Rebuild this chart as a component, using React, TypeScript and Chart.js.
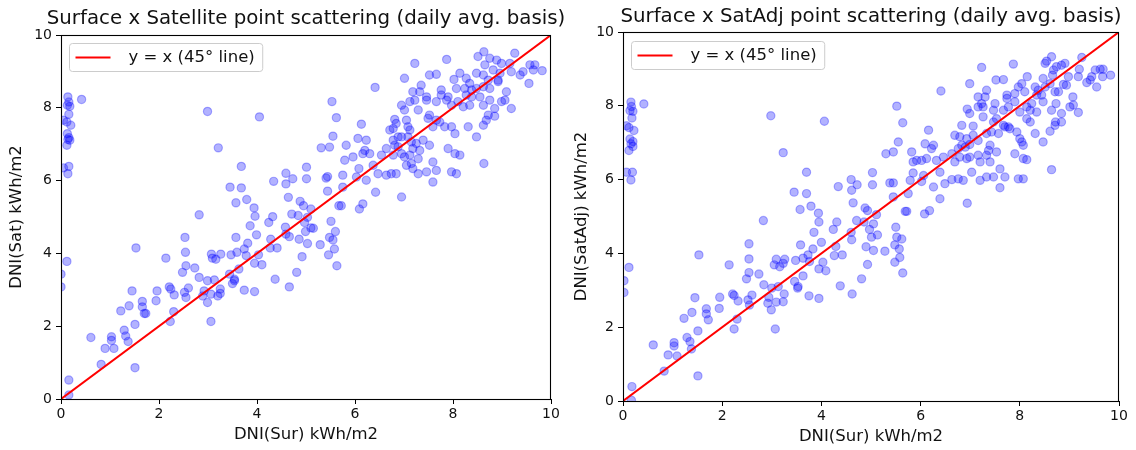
import React, { useEffect, useRef } from "react";
import { Chart, registerables } from "chart.js";

Chart.register(...registerables);

// ---------- data ----------
const AXIS_TICKS = [0, 2, 4, 6, 8, 10];
const REF_LINE = [0, 10];
const LEGEND_LABEL = "y = x (45° line)";
const X_LABEL = "DNI(Sur) kWh/m2";

const SAT_TITLE = "Surface x Satellite point scattering (daily avg. basis)";
const SAT_Y_LABEL = "DNI(Sat) kWh/m2";
const SATADJ_TITLE = "Surface x SatAdj point scattering (daily avg. basis)";
const SATADJ_Y_LABEL = "DNI(SatAdj) kWh/m2";

// Surface (x) vs Satellite (y)
const SAT_NEAR_ZERO: number[][] = [
  [0.14, 8.30], [0.42, 8.23], [0.16, 8.16], [0.18, 8.04], [0.13, 8.07], [0.16, 7.82], [0.05, 7.66],
  [0.12, 7.61], [0.20, 7.52], [0.13, 7.29], [0.16, 7.18], [0.18, 7.11], [0.14, 7.13], [0.12, 6.97],
  [0.05, 6.35], [0.16, 6.39], [0.14, 6.19], [0.12, 3.78], [0.0, 3.43], [0.0, 3.08], [0.16, 0.52], [0.16, 0.11],
];
const SAT_LOW: number[][] = [
  [1.53, 4.15], [2.14, 3.87], [2.54, 4.03], [2.55, 3.66], [2.48, 3.48], [2.73, 3.60], [3.07, 3.98],
  [3.16, 3.84], [3.26, 3.98], [3.09, 3.87], [3.47, 3.96], [3.59, 4.03], [3.74, 4.12], [3.78, 3.94],
  [3.63, 3.57], [3.81, 4.28], [3.95, 3.73], [4.03, 3.96], [4.10, 3.69], [4.27, 4.15], [4.41, 4.15],
  [4.37, 3.29], [4.66, 3.08], [2.82, 3.34], [2.99, 3.25], [3.13, 3.27], [3.44, 3.43], [3.54, 3.25],
  [3.54, 3.29], [3.50, 3.17], [3.74, 2.99], [3.95, 2.95], [2.92, 2.97], [2.89, 2.83], [2.99, 2.65],
  [3.06, 2.88], [3.20, 2.83], [3.25, 3.02], [3.25, 2.90], [3.06, 2.13], [2.21, 3.08], [2.24, 3.02],
  [2.31, 2.86], [2.52, 2.93], [2.55, 2.79], [2.60, 3.05], [1.96, 2.97], [1.94, 2.70], [2.30, 2.40],
  [2.23, 2.13], [1.45, 2.97], [1.39, 2.56], [1.22, 2.42], [1.66, 2.68], [1.66, 2.53], [1.70, 2.35],
  [1.73, 2.35], [1.51, 2.05], [0.61, 1.69], [1.03, 1.71], [1.03, 1.61], [1.29, 1.89], [1.32, 1.73],
  [1.37, 1.58], [0.90, 1.39], [1.08, 1.39], [0.82, 0.95], [1.51, 0.86],
];
const SAT_MID: number[][] = [
  [2.99, 7.90], [4.05, 7.75], [3.21, 6.90], [3.68, 6.39], [3.45, 5.82], [3.68, 5.80], [3.79, 5.48],
  [3.57, 5.39], [3.94, 5.25], [3.96, 5.02], [3.86, 4.76], [2.82, 5.06], [2.53, 4.44], [3.57, 4.44],
  [3.99, 4.51], [4.34, 5.98], [4.59, 6.20], [4.73, 6.05], [4.59, 5.91], [5.01, 6.37], [5.01, 6.05],
  [4.64, 5.54], [4.88, 5.43], [4.95, 5.31], [5.10, 5.22], [4.71, 5.08], [4.84, 5.04], [5.03, 4.99],
  [4.32, 5.01], [4.24, 4.85], [4.58, 4.72], [4.59, 4.53], [4.66, 4.46], [4.97, 4.85], [4.99, 4.60],
  [5.10, 4.70], [5.15, 4.69], [4.86, 4.39], [5.03, 4.27], [5.29, 4.24], [5.51, 4.88], [5.60, 4.60],
  [5.48, 4.44], [5.55, 4.37], [5.58, 4.12], [5.46, 3.96], [5.63, 3.66], [4.92, 3.91], [4.81, 3.48],
  [4.28, 4.39], [5.41, 6.07], [5.44, 6.11], [5.44, 5.71], [5.67, 5.31], [5.72, 5.31], [6.09, 5.22],
  [6.16, 5.36], [6.42, 5.68], [5.31, 6.90], [5.48, 6.92], [5.75, 5.82], [6.95, 5.55],
];
const SAT_HIGH: number[][] = [
  [7.22, 9.22], [7.87, 9.33], [8.63, 9.54], [8.51, 9.41], [8.75, 9.36], [8.89, 9.31], [8.99, 9.22],
  [9.26, 9.50], [8.65, 9.18], [8.82, 9.04], [9.16, 9.22], [9.57, 9.18], [9.67, 9.18], [9.64, 9.04],
  [9.82, 9.02], [9.43, 8.99], [9.37, 8.90], [9.55, 8.67], [9.19, 8.99], [7.52, 8.90], [7.66, 8.92],
  [8.14, 8.95], [7.01, 8.81], [8.02, 8.78], [8.27, 8.81], [8.34, 8.67], [8.48, 8.95], [8.62, 8.90],
  [8.72, 8.76], [8.92, 8.76], [8.96, 8.95], [8.92, 8.72], [6.41, 8.56], [7.35, 8.62], [7.18, 8.44],
  [7.32, 8.44], [7.46, 8.30], [7.22, 8.21], [7.29, 7.94], [7.76, 8.49], [7.76, 8.35], [7.90, 8.30],
  [8.07, 8.53], [8.24, 8.53], [8.38, 8.49], [8.48, 8.53], [8.62, 8.58], [8.75, 8.53], [8.27, 8.35],
  [8.38, 8.30], [8.55, 8.30], [8.75, 8.21], [9.09, 8.44], [9.06, 8.21], [8.99, 8.17], [8.85, 7.98],
  [9.19, 7.98], [5.53, 8.17], [5.62, 7.73], [6.13, 7.55], [6.95, 8.07], [7.12, 8.17], [7.01, 7.94],
  [7.46, 8.21], [7.66, 8.17], [7.87, 8.21], [7.97, 8.07], [8.10, 8.17], [8.21, 8.03], [8.34, 8.07],
  [8.62, 8.07], [8.72, 7.80], [8.85, 7.77], [8.68, 7.66], [8.62, 7.52], [7.52, 7.80], [7.66, 7.66],
  [7.73, 7.61], [7.49, 7.71], [7.59, 7.48], [7.83, 7.48], [7.97, 7.48], [8.04, 7.29], [8.31, 7.48],
  [8.48, 7.20], [6.81, 7.68], [6.84, 7.57], [7.05, 7.66], [7.08, 7.48], [6.78, 7.43], [6.71, 7.39],
  [6.88, 7.20], [6.95, 7.20], [7.12, 7.39], [7.08, 7.20], [7.15, 7.06], [6.88, 6.93], [6.78, 7.11],
  [6.81, 6.97], [6.06, 7.16], [6.23, 7.11], [5.82, 6.97], [5.55, 7.22], [7.39, 7.11], [7.25, 7.02],
  [7.52, 6.97], [7.32, 6.83], [7.18, 6.88], [7.12, 6.70], [7.01, 6.65], [6.95, 6.74], [6.78, 6.70],
  [6.64, 6.88], [6.54, 6.70], [6.37, 6.42], [6.16, 6.74], [6.20, 6.83], [5.96, 6.65], [5.79, 6.56],
  [6.30, 6.74], [6.08, 6.33], [7.05, 6.42], [7.15, 6.47], [7.29, 6.60], [7.18, 6.33], [7.46, 6.24],
  [7.59, 6.51], [7.66, 6.28], [7.90, 6.88], [8.04, 6.74], [8.14, 6.70], [7.97, 6.24], [8.07, 6.19],
  [8.63, 6.47], [7.29, 6.19], [6.84, 6.19], [6.74, 6.19], [6.64, 6.15], [6.47, 6.19], [6.23, 6.01],
  [6.03, 6.10], [5.75, 6.15], [7.59, 5.96],
];

// Surface (x) vs SatAdj (y)
const ADJ_NEAR_ZERO: number[][] = [
  [0.16, 8.10], [0.42, 8.05], [0.17, 7.98], [0.14, 7.87], [0.20, 7.85], [0.18, 7.67], [0.07, 7.46],
  [0.12, 7.41], [0.22, 7.33], [0.14, 7.10], [0.20, 7.03], [0.16, 6.97], [0.20, 6.90], [0.12, 6.79],
  [0.07, 6.20], [0.19, 6.20], [0.16, 5.99], [0.12, 3.62], [0.02, 3.26], [0.02, 2.94], [0.18, 0.39], [0.17, 0.02],
];
const ADJ_LOW: number[][] = [
  [1.53, 3.96], [2.14, 3.69], [2.54, 4.26], [2.54, 3.85], [2.54, 3.48], [2.49, 3.31], [2.74, 3.44],
  [3.58, 4.23], [3.83, 4.12], [4.00, 4.30], [4.29, 4.19], [4.26, 3.94], [4.42, 3.96], [4.62, 2.90],
  [4.38, 3.12], [4.03, 3.76], [3.95, 3.58], [4.09, 3.53], [3.73, 3.96], [3.63, 3.87], [3.48, 3.81],
  [3.76, 3.78], [3.09, 3.84], [3.26, 3.84], [3.05, 3.69], [3.16, 3.64], [3.23, 3.73], [3.63, 3.39],
  [3.46, 3.24], [3.53, 3.10], [3.52, 3.06], [3.75, 2.85], [3.95, 2.78], [2.84, 3.15], [3.00, 3.06],
  [3.13, 3.10], [3.25, 2.90], [3.23, 2.69], [3.09, 2.68], [2.92, 2.65], [2.94, 2.81], [2.99, 2.47],
  [3.07, 1.95], [2.60, 2.87], [2.52, 2.74], [2.55, 2.60], [2.21, 2.90], [2.24, 2.86], [2.32, 2.71],
  [2.30, 2.22], [2.24, 1.95], [1.95, 2.81], [1.94, 2.51], [1.45, 2.80], [1.39, 2.40], [1.23, 2.24],
  [1.68, 2.50], [1.68, 2.36], [1.72, 2.20], [1.51, 1.90], [0.61, 1.52], [1.03, 1.58], [1.03, 1.49],
  [1.29, 1.72], [1.35, 1.61], [1.38, 1.41], [0.91, 1.25], [1.09, 1.22], [0.83, 0.81], [1.51, 0.68],
];
const ADJ_MID: number[][] = [
  [2.98, 7.73], [4.06, 7.58], [3.23, 6.73], [3.70, 6.20], [3.45, 5.66], [3.70, 5.62], [3.57, 5.19],
  [3.79, 5.28], [3.94, 5.09], [3.95, 4.85], [3.85, 4.57], [2.83, 4.89], [4.31, 4.85], [4.24, 4.65],
  [4.34, 5.81], [4.60, 6.00], [4.72, 5.86], [4.61, 5.71], [5.03, 6.19], [5.03, 5.86], [4.64, 5.37],
  [4.88, 5.23], [4.93, 5.16], [5.11, 5.05], [4.71, 4.89], [4.86, 4.85], [5.05, 4.80], [5.13, 4.50],
  [4.97, 4.65], [5.01, 4.44], [4.60, 4.57], [4.61, 4.37], [4.90, 4.18], [5.05, 4.08], [5.28, 4.06],
  [5.50, 4.71], [5.52, 4.44], [5.62, 4.39], [5.57, 4.12], [5.48, 4.23], [5.58, 3.89], [5.48, 3.76],
  [5.64, 3.47], [4.93, 3.70], [4.81, 3.31], [5.38, 5.91], [5.45, 5.53], [5.75, 5.62], [5.69, 5.14],
  [5.72, 5.14], [6.08, 5.07], [6.18, 5.16], [6.39, 5.48], [5.85, 6.18], [5.30, 6.70], [6.94, 5.36],
];
const ADJ_HIGH: number[][] = [
  [7.23, 9.04], [7.87, 9.13], [6.99, 8.60], [6.41, 8.40], [7.52, 8.70], [7.67, 8.71], [8.64, 9.33],
  [8.54, 9.21], [8.51, 9.15], [8.74, 9.06], [8.84, 9.10], [8.91, 9.15], [9.25, 9.31], [9.20, 8.99],
  [9.52, 8.97], [9.62, 8.99], [9.68, 8.99], [9.83, 8.83], [9.67, 8.79], [9.45, 8.79], [9.35, 8.63],
  [9.42, 8.70], [9.55, 8.51], [9.18, 8.79], [8.98, 8.79], [8.68, 8.97], [8.66, 8.83], [8.47, 8.74],
  [8.15, 8.79], [8.04, 8.60], [7.97, 8.51], [8.10, 8.38], [8.31, 8.51], [8.37, 8.42], [8.34, 8.29],
  [8.44, 8.29], [8.51, 8.51], [8.61, 8.60], [8.71, 8.38], [8.78, 8.38], [8.88, 8.58], [8.94, 8.56],
  [9.07, 8.24], [9.08, 8.02], [9.18, 7.82], [9.01, 7.97], [8.73, 8.06], [8.64, 7.88], [8.84, 7.79],
  [8.72, 7.56], [8.84, 7.56], [8.71, 7.47], [8.61, 7.31], [8.47, 7.02], [8.31, 7.25], [8.21, 7.56],
  [8.14, 7.65], [8.34, 7.83], [8.21, 7.88], [8.47, 8.11], [8.24, 8.06], [8.14, 7.97], [8.00, 7.83],
  [7.90, 8.11], [7.90, 8.33], [7.74, 8.29], [7.74, 8.20], [7.77, 7.97], [7.67, 7.88], [7.50, 8.06],
  [7.47, 7.88], [7.33, 8.42], [7.30, 8.24], [7.16, 8.24], [7.23, 8.06], [7.26, 7.97], [7.16, 7.97],
  [6.94, 7.91], [6.99, 7.79], [7.26, 7.70], [7.53, 7.65], [7.47, 7.56], [7.67, 7.47], [7.70, 7.43],
  [7.77, 7.43], [7.94, 7.29], [8.00, 7.11], [8.04, 7.02], [8.07, 6.93], [7.80, 7.38], [7.57, 7.25],
  [7.43, 7.29], [7.33, 7.25], [7.16, 7.06], [7.06, 7.20], [7.06, 7.45], [6.83, 7.47], [6.69, 7.20],
  [6.79, 7.16], [6.93, 7.11], [6.83, 6.93], [6.90, 6.88], [6.76, 6.84], [6.99, 6.95], [7.40, 6.93],
  [7.37, 6.79], [7.53, 6.75], [7.33, 6.66], [7.16, 6.66], [7.20, 6.48], [7.40, 6.48], [6.99, 6.61],
  [6.93, 6.57], [6.79, 6.61], [6.69, 6.48], [6.63, 6.70], [6.46, 6.61], [6.26, 6.93], [6.22, 6.84],
  [6.09, 6.97], [6.12, 6.57], [6.02, 6.52], [5.85, 6.48], [5.92, 6.52], [5.82, 6.75], [6.16, 7.34],
  [5.55, 7.02], [5.45, 6.75], [5.64, 7.54], [5.52, 7.99], [6.32, 6.52], [6.39, 6.20], [6.63, 6.00],
  [6.76, 6.02], [6.86, 5.98], [7.03, 6.20], [7.20, 5.98], [7.33, 6.07], [7.47, 6.07], [7.60, 6.29],
  [7.70, 6.07], [7.90, 6.70], [8.07, 6.57], [8.14, 6.54], [7.97, 6.02], [8.07, 6.02], [8.64, 6.27],
  [6.06, 6.11], [6.02, 5.95], [6.26, 5.80], [6.49, 5.89], [5.79, 5.98], [5.45, 5.91], [7.60, 5.78],
];

const SAT_POINTS = [...SAT_NEAR_ZERO, ...SAT_LOW, ...SAT_MID, ...SAT_HIGH];
const ADJ_POINTS = [...ADJ_NEAR_ZERO, ...ADJ_LOW, ...ADJ_MID, ...ADJ_HIGH];

// ---------- style ----------
const FONT = "'DejaVu Sans', 'Liberation Sans', sans-serif";
const TEXT = "#111";

type PanelLayout = {
  yAxisWidth: number;
  xAxisHeight: number;
  padRight: number;
  padTop: number;
  titleMid: number;
  xTitlePadBottom: number;
  yTitlePadTop: number;
  legendTop: number;
};

const framePlugin = {
  id: "frameAndLegend",
  afterDatasetsDraw(chart: any) {
    const { ctx, chartArea: a } = chart;
    const opts = chart.options.plugins.frameAndLegend;
    const L: PanelLayout = opts.layout;
    ctx.save();
    // full box (spines)
    ctx.strokeStyle = "#000";
    ctx.lineWidth = 1.1;
    ctx.strokeRect(a.left + 0.5, a.top + 0.5, a.right - a.left - 1, a.bottom - a.top);
    // title centred on the plot area, not squeezed
    ctx.fillStyle = TEXT;
    ctx.font = `19.8px ${FONT}`;
    ctx.textAlign = "center";
    ctx.textBaseline = "middle";
    ctx.fillText(opts.title, (a.left + a.right) / 2, L.titleMid);
    // legend
    const bx = a.left + 8.5;
    const by = a.top + L.legendTop;
    ctx.font = `16.5px ${FONT}`;
    const tw = ctx.measureText(LEGEND_LABEL).width;
    const bw = 59 + tw + 8;
    const bh = 28;
    const r = 3;
    ctx.beginPath();
    ctx.moveTo(bx + r, by);
    ctx.lineTo(bx + bw - r, by);
    ctx.arcTo(bx + bw, by, bx + bw, by + r, r);
    ctx.lineTo(bx + bw, by + bh - r);
    ctx.arcTo(bx + bw, by + bh, bx + bw - r, by + bh, r);
    ctx.lineTo(bx + r, by + bh);
    ctx.arcTo(bx, by + bh, bx, by + bh - r, r);
    ctx.lineTo(bx, by + r);
    ctx.arcTo(bx, by, bx + r, by, r);
    ctx.closePath();
    ctx.fillStyle = "rgba(255,255,255,0.8)";
    ctx.fill();
    ctx.strokeStyle = "#cccccc";
    ctx.lineWidth = 1;
    ctx.stroke();
    const cy = by + bh / 2;
    ctx.strokeStyle = "#ff0000";
    ctx.lineWidth = 2;
    ctx.beginPath();
    ctx.moveTo(bx + 6, cy);
    ctx.lineTo(bx + 41, cy);
    ctx.stroke();
    ctx.fillStyle = TEXT;
    ctx.textAlign = "left";
    ctx.textBaseline = "middle";
    ctx.fillText(LEGEND_LABEL, bx + 59, cy);
    ctx.restore();
  },
};

function makeConfig(points: number[][], title: string, yLabel: string, L: PanelLayout): any {
  const tickFont = { family: FONT, size: 14, lineHeight: 1.2 };
  const labelFont = { family: FONT, size: 16.5, lineHeight: 1.2 };
  const axisCommon = (isX: boolean) => ({
    type: "linear",
    min: AXIS_TICKS[0],
    max: AXIS_TICKS[AXIS_TICKS.length - 1],
    afterBuildTicks: (s: any) => {
      s.ticks = AXIS_TICKS.map((v) => ({ value: v }));
    },
    ticks: {
      font: tickFont,
      color: TEXT,
      padding: isX ? 2 : 4,
      maxRotation: 0,
      autoSkip: false,
      callback: (v: any) => String(v),
    },
    grid: {
      display: true,
      drawOnChartArea: false,
      drawTicks: true,
      tickLength: 5,
      color: "#000",
      lineWidth: 1,
    },
    border: { display: false },
  });
  return {
    type: "scatter",
    data: {
      datasets: [
        {
          type: "line",
          label: LEGEND_LABEL,
          data: REF_LINE.map((v) => ({ x: v, y: v })),
          borderColor: "#ff0000",
          borderWidth: 2,
          pointRadius: 0,
          showLine: true,
          fill: false,
          order: 0,
          clip: 0,
        },
        {
          type: "scatter",
          label: "points",
          data: points.map(([x, y]) => ({ x, y })),
          backgroundColor: "rgba(0,0,255,0.3)",
          borderColor: "rgba(0,0,255,0.3)",
          borderWidth: 1.2,
          pointRadius: 4.1,
          pointHoverRadius: 4.1,
          order: 1,
          clip: 0,
        },
      ],
    },
    options: {
      animation: false,
      responsive: false,
      maintainAspectRatio: false,
      events: [],
      layout: { padding: { left: 0, right: L.padRight, top: L.padTop, bottom: 0 } },
      plugins: {
        legend: { display: false },
        tooltip: { enabled: false },
        title: { display: false },
        frameAndLegend: { layout: L, title },
      },
      scales: {
        x: {
          ...axisCommon(true),
          position: "bottom",
          title: {
            display: true,
            text: X_LABEL,
            color: TEXT,
            font: labelFont,
            padding: { top: 0, bottom: L.xTitlePadBottom },
          },
          afterFit: (s: any) => {
            s.height = L.xAxisHeight;
          },
        },
        y: {
          ...axisCommon(false),
          position: "left",
          title: {
            display: true,
            text: yLabel,
            color: TEXT,
            font: labelFont,
            padding: { top: L.yTitlePadTop, bottom: 0 },
          },
          afterFit: (s: any) => {
            s.width = L.yAxisWidth;
          },
        },
      },
    },
    plugins: [framePlugin],
  };
}

const LEFT_LAYOUT: PanelLayout = {
  yAxisWidth: 61,
  xAxisHeight: 51,
  padRight: 17,
  padTop: 35,
  titleMid: 19,
  xTitlePadBottom: 5,
  yTitlePadTop: 7,
  legendTop: 8.5,
};
const RIGHT_LAYOUT: PanelLayout = {
  yAxisWidth: 55,
  xAxisHeight: 49,
  padRight: 17,
  padTop: 32,
  titleMid: 17,
  xTitlePadBottom: 3,
  yTitlePadTop: 4,
  legendTop: 9.5,
};

function Panel(props: { points: number[][]; title: string; yLabel: string; layout: PanelLayout; left: number }) {
  const ref = useRef<HTMLCanvasElement | null>(null);
  useEffect(() => {
    if (!ref.current) return;
    const chart = new Chart(ref.current, makeConfig(props.points, props.title, props.yLabel, props.layout));
    return () => chart.destroy();
  }, []);
  return (
    <canvas
      ref={ref}
      width={568}
      height={450}
      style={{ position: "absolute", left: props.left, top: 0, width: 568, height: 450 }}
    />
  );
}

export default function App() {
  return (
    <div style={{ position: "absolute", left: 0, top: 0, width: 1136, height: 450, background: "#fff" }}>
      <Panel points={SAT_POINTS} title={SAT_TITLE} yLabel={SAT_Y_LABEL} layout={LEFT_LAYOUT} left={0} />
      <Panel points={ADJ_POINTS} title={SATADJ_TITLE} yLabel={SATADJ_Y_LABEL} layout={RIGHT_LAYOUT} left={568} />
    </div>
  );
}
